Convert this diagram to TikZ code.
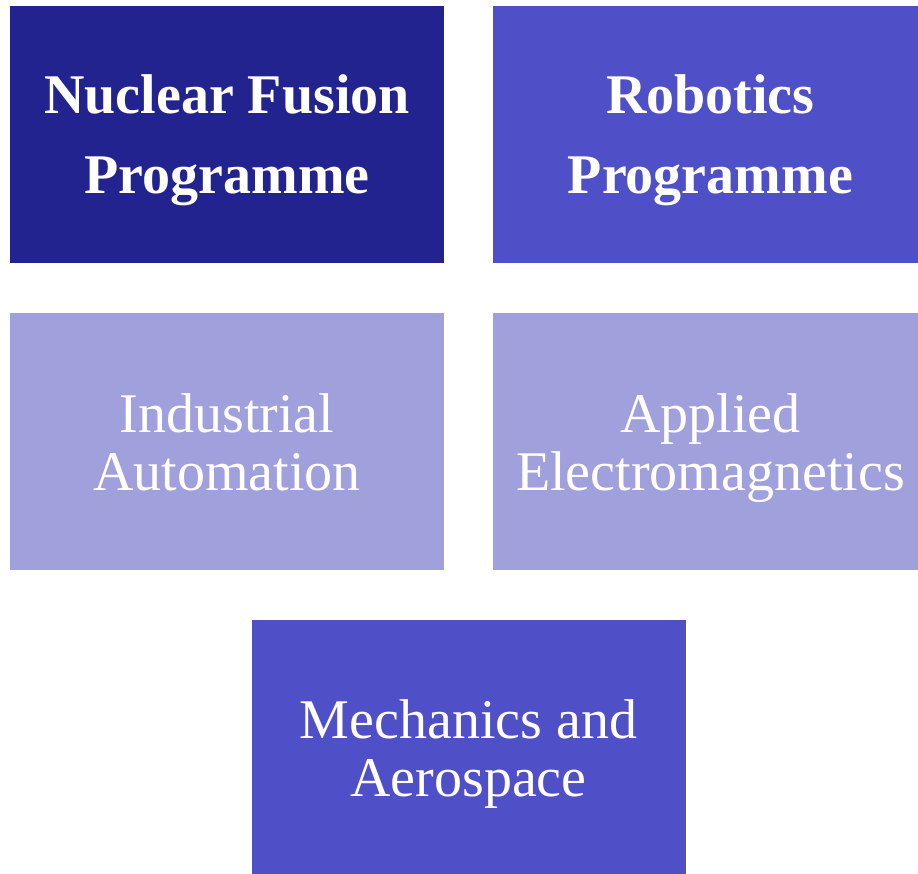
\documentclass[tikz,border=0pt]{standalone}
\usepackage{fontspec}
\setmainfont{Liberation Serif}
\usetikzlibrary{positioning}
\definecolor{darkprog}{HTML}{23238F}
\definecolor{midprog}{HTML}{4F4FC8}
\definecolor{lightarea}{HTML}{A0A0DC}

\begin{document}
\begin{tikzpicture}[
x=1pt, y=1pt,
box/.style={rectangle, text=white, minimum width=434pt, minimum height=257pt, inner sep=0pt, text depth=0pt, align=center},
prog/.style={box, font=\fontsize{56}{80}\selectfont\bfseries},
area/.style={box, font=\fontsize{56}{58}\selectfont}
]
\useasboundingbox (0,0) rectangle (918,-873);
%Nodes
\node[prog, fill=darkprog]	(fusion)										at (227,-134.5)		{Nuclear Fusion\\ Programme};
\node[prog, fill=midprog]	(robotics)		[right= 49pt of fusion]								{Robotics\\ Programme};
\node[area, fill=lightarea]	(automation)	[below= 50pt of fusion]								{Industrial\\ Automation};
\node[area, fill=lightarea]	(emag)			[below= 50pt of robotics]							{Applied\\ Electromagnetics};
\node[area, fill=midprog]	(mechanics)										at (468.5,-748.5)	{Mechanics and\\ Aerospace};

\end{tikzpicture}
\end{document}
